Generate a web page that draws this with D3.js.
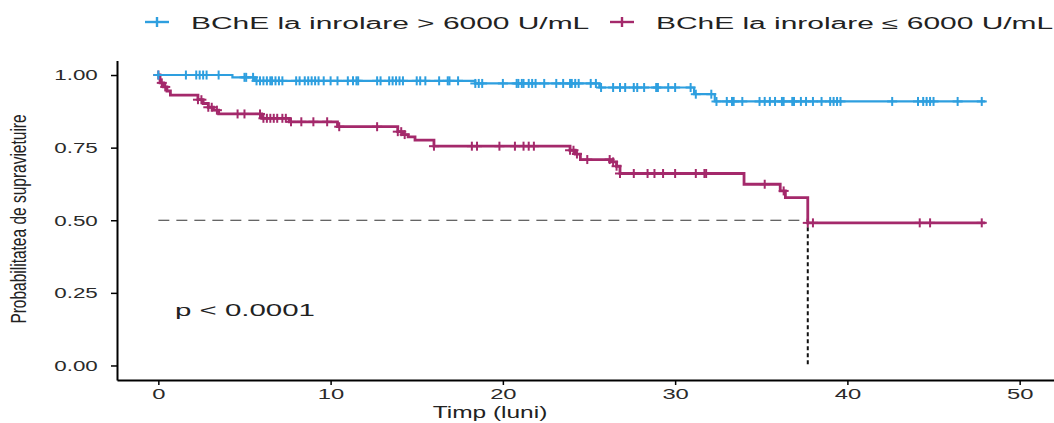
<!DOCTYPE html>
<html>
<head>
<meta charset="utf-8">
<script src="https://cdn.jsdelivr.net/npm/d3@7"></script>
<style>
  body { margin: 0; background: #fff; }
  svg { display: block; font-family: "Liberation Sans", Arial, sans-serif; }
</style>
</head>
<body>
<svg id="chart" width="1054" height="423"></svg>
<script>
// groups
const groupNames = ["BChE la inrolare > 6000 U/mL", "BChE la inrolare \u2264 6000 U/mL"];
const groupColors = ["#2E9FDF", "#A4296B"];

// high BChE: step times (luni) and survival after each step
const highTimes = [0, 4.3, 5.6, 18.4, 25.6, 31.1, 32.3, 48];
const highSurv = [1.00, 0.992, 0.980, 0.971, 0.957, 0.934, 0.909, 0.909];
const highCensor = [0, 1.6, 2.2, 2.4, 2.6, 2.8, 3.5, 5.0, 5.1, 5.5, 5.7, 5.9, 6.1, 6.3, 6.5, 6.6, 6.8, 7.0, 7.2,
  8.0, 8.2, 8.5, 8.7, 8.9, 9.1, 9.3, 9.6, 10.0, 10.4, 11.0, 11.3, 11.5, 11.6, 12.7, 12.9, 13.4, 13.6, 13.8,
  14.0, 14.2, 15.0, 15.2, 15.5, 16.3, 16.8, 16.9, 17.4, 18.4, 18.6, 18.8, 20.0, 20.8, 20.9, 21.1, 21.2, 21.5,
  21.7, 21.9, 22.4, 23.1, 23.5, 23.9, 24.0, 24.2, 24.4, 25.1, 25.4, 25.7, 26.4, 26.8, 27.1, 27.6, 27.8, 28.2,
  28.9, 29.0, 29.6, 30.0, 30.9, 31.2, 32.1, 32.4, 33.0, 33.3, 33.4, 33.9, 34.9, 35.2, 35.5, 35.8, 36.2, 36.3,
  36.8, 36.9, 37.3, 37.6, 38.0, 38.5, 39.0, 39.2, 39.4, 39.6, 42.6, 44.1, 44.4, 44.6, 44.8, 45.0, 46.4, 47.8];

// low BChE
const lowTimes = [0, 0.1, 0.3, 0.5, 0.7, 2.3, 2.6, 2.9, 3.2, 3.5, 6.0, 7.6, 10.4, 13.9, 14.2, 14.5, 14.9, 16.0,
  23.9, 24.2, 24.5, 26.3, 26.6, 26.8, 34.0, 36.1, 36.4, 37.7, 48];
const lowSurv = [1.0, 0.973, 0.959, 0.945, 0.931, 0.915, 0.902, 0.889, 0.879, 0.866, 0.851, 0.839, 0.822, 0.805,
  0.795, 0.787, 0.776, 0.755, 0.741, 0.728, 0.709, 0.701, 0.686, 0.661, 0.624, 0.601, 0.578, 0.491, 0.491];
const lowCensor = [0, 0.2, 0.4, 2.3, 2.5, 2.9, 3.1, 3.4, 4.6, 5.0, 5.9, 6.1, 6.3, 6.5, 6.7, 6.9, 7.2, 7.4, 7.7,
  8.3, 9.0, 9.8, 10.5, 12.7, 13.9, 14.1, 14.3, 16.0, 18.2, 18.5, 19.8, 20.7, 21.2, 21.5, 21.8, 23.9, 24.1, 24.3,
  24.9, 26.2, 26.4, 26.6, 26.8, 27.6, 28.4, 28.8, 29.3, 30.0, 31.2, 31.7, 31.8, 35.2, 36.3, 37.7, 38.0, 44.2,
  44.8, 47.8];

const xTicks = [0, 10, 20, 30, 40, 50];
const yTicks = [0, 0.25, 0.5, 0.75, 1];
const xTitle = "Timp (luni)";
const yTitle = "Probabilitatea de supravietuire";
const pLabel = "p < 0.0001";

const curves = [
  {times: highTimes, surv: highSurv, censor: highCensor, width: 2.2},
  {times: lowTimes, surv: lowSurv, censor: lowCensor, width: 2.8}
];

const svg = d3.select("#chart");
const x = d3.scaleLinear().domain([-2.4, 52.4]).range([117, 1061]);
const y = d3.scaleLinear().domain([-0.05, 1.05]).range([380, 60.5]);

// survival value at time t (step function)
function survAt(c, t) {
  let i = d3.bisectRight(c.times, t) - 1;
  return c.surv[Math.max(i, 0)];
}

// median line for the low group
let lowCurve = curves[1];
let medianTime = lowCurve.times[lowCurve.surv.findIndex(s => s <= 0.5)];

svg.append("line")
  .attr("x1", x(0)).attr("x2", x(medianTime))
  .attr("y1", y(0.5)).attr("y2", y(0.5))
  .attr("stroke", "#333").attr("stroke-width", 1.2).attr("stroke-dasharray", "11 7");
svg.append("line")
  .attr("x1", x(medianTime)).attr("x2", x(medianTime))
  .attr("y1", y(0.5)).attr("y2", y(0))
  .attr("stroke", "#111").attr("stroke-width", 2).attr("stroke-dasharray", "4 3");

// curves
const line = d3.line()
  .x(d => x(d[0]))
  .y(d => y(d[1]))
  .curve(d3.curveStepAfter);

// draw the low group first so the high one lies on top at 1.00
[1, 0].forEach(k => {
  let c = curves[k];
  let g = svg.append("g");
  g.append("path")
    .datum(c.times.map((t, i) => [t, c.surv[i]]))
    .attr("d", line)
    .attr("fill", "none")
    .attr("stroke", groupColors[k])
    .attr("stroke-width", c.width);

  let marks = g.selectAll("g.cens").data(c.censor).join("g")
    .attr("class", "cens")
    .attr("transform", t => `translate(${x(t)},${y(survAt(c, t))})`);
  marks.append("line").attr("x1", -5).attr("x2", 5)
    .attr("stroke", groupColors[k]).attr("stroke-width", 2);
  marks.append("line").attr("y1", -4.5).attr("y2", 4.5)
    .attr("stroke", groupColors[k]).attr("stroke-width", 2);
});

// axes
const yg = svg.append("g").attr("transform", `translate(117,0)`)
  .call(d3.axisLeft(y).tickValues(yTicks).tickSize(6).tickSizeOuter(0).tickFormat(d3.format(".2f")));
yg.select("path").attr("stroke", "#000").attr("stroke-width", 2);
yg.selectAll("line").attr("stroke", "#000").attr("stroke-width", 1.5);
yg.selectAll("text")
  .attr("x", -12).attr("dy", "0.35em")
  .attr("transform", "scale(1.6,1)")
  .attr("font-size", 14).attr("fill", "#2a2a2a");

const xg = svg.append("g").attr("transform", `translate(0,380)`)
  .call(d3.axisBottom(x).tickValues(xTicks).tickSize(5).tickSizeOuter(0));
xg.select("path").attr("stroke", "#000").attr("stroke-width", 2);
xg.selectAll("line").attr("stroke", "#000").attr("stroke-width", 1.5);
// stretched labels stay centred on their ticks
xg.selectAll("text")
  .attr("y", 19).attr("dy", 0)
  .attr("transform", "scale(1.7,1)")
  .attr("font-size", 14).attr("fill", "#2a2a2a");

// titles
svg.append("text")
  .attr("transform", "translate(490,418) scale(1.53,1)")
  .attr("text-anchor", "middle").attr("font-size", 16).attr("fill", "#222")
  .text(xTitle);
svg.append("text")
  .attr("transform", "translate(26,219) scale(1.4,1) rotate(-90)")
  .attr("text-anchor", "middle").attr("font-size", 15.5).attr("fill", "#222")
  .text(yTitle);

// p-value
svg.append("text")
  .attr("transform", "translate(175,316) scale(1.84,1)")
  .attr("font-size", 16).attr("fill", "#222")
  .text(pLabel);

// legend
const legendX = [157, 622];
groupNames.forEach((name, k) => {
  let lg = svg.append("g").attr("transform", `translate(${legendX[k]},22)`);
  lg.append("line").attr("x1", -12).attr("x2", 12)
    .attr("stroke", groupColors[k]).attr("stroke-width", 2.4);
  lg.append("line").attr("y1", -5).attr("y2", 5)
    .attr("stroke", groupColors[k]).attr("stroke-width", 2.4);
  lg.append("text")
    .attr("transform", "translate(34,7) scale(1.87,1)")
    .attr("font-size", 16).attr("fill", "#222")
    .text(name);
});
</script>
</body>
</html>
